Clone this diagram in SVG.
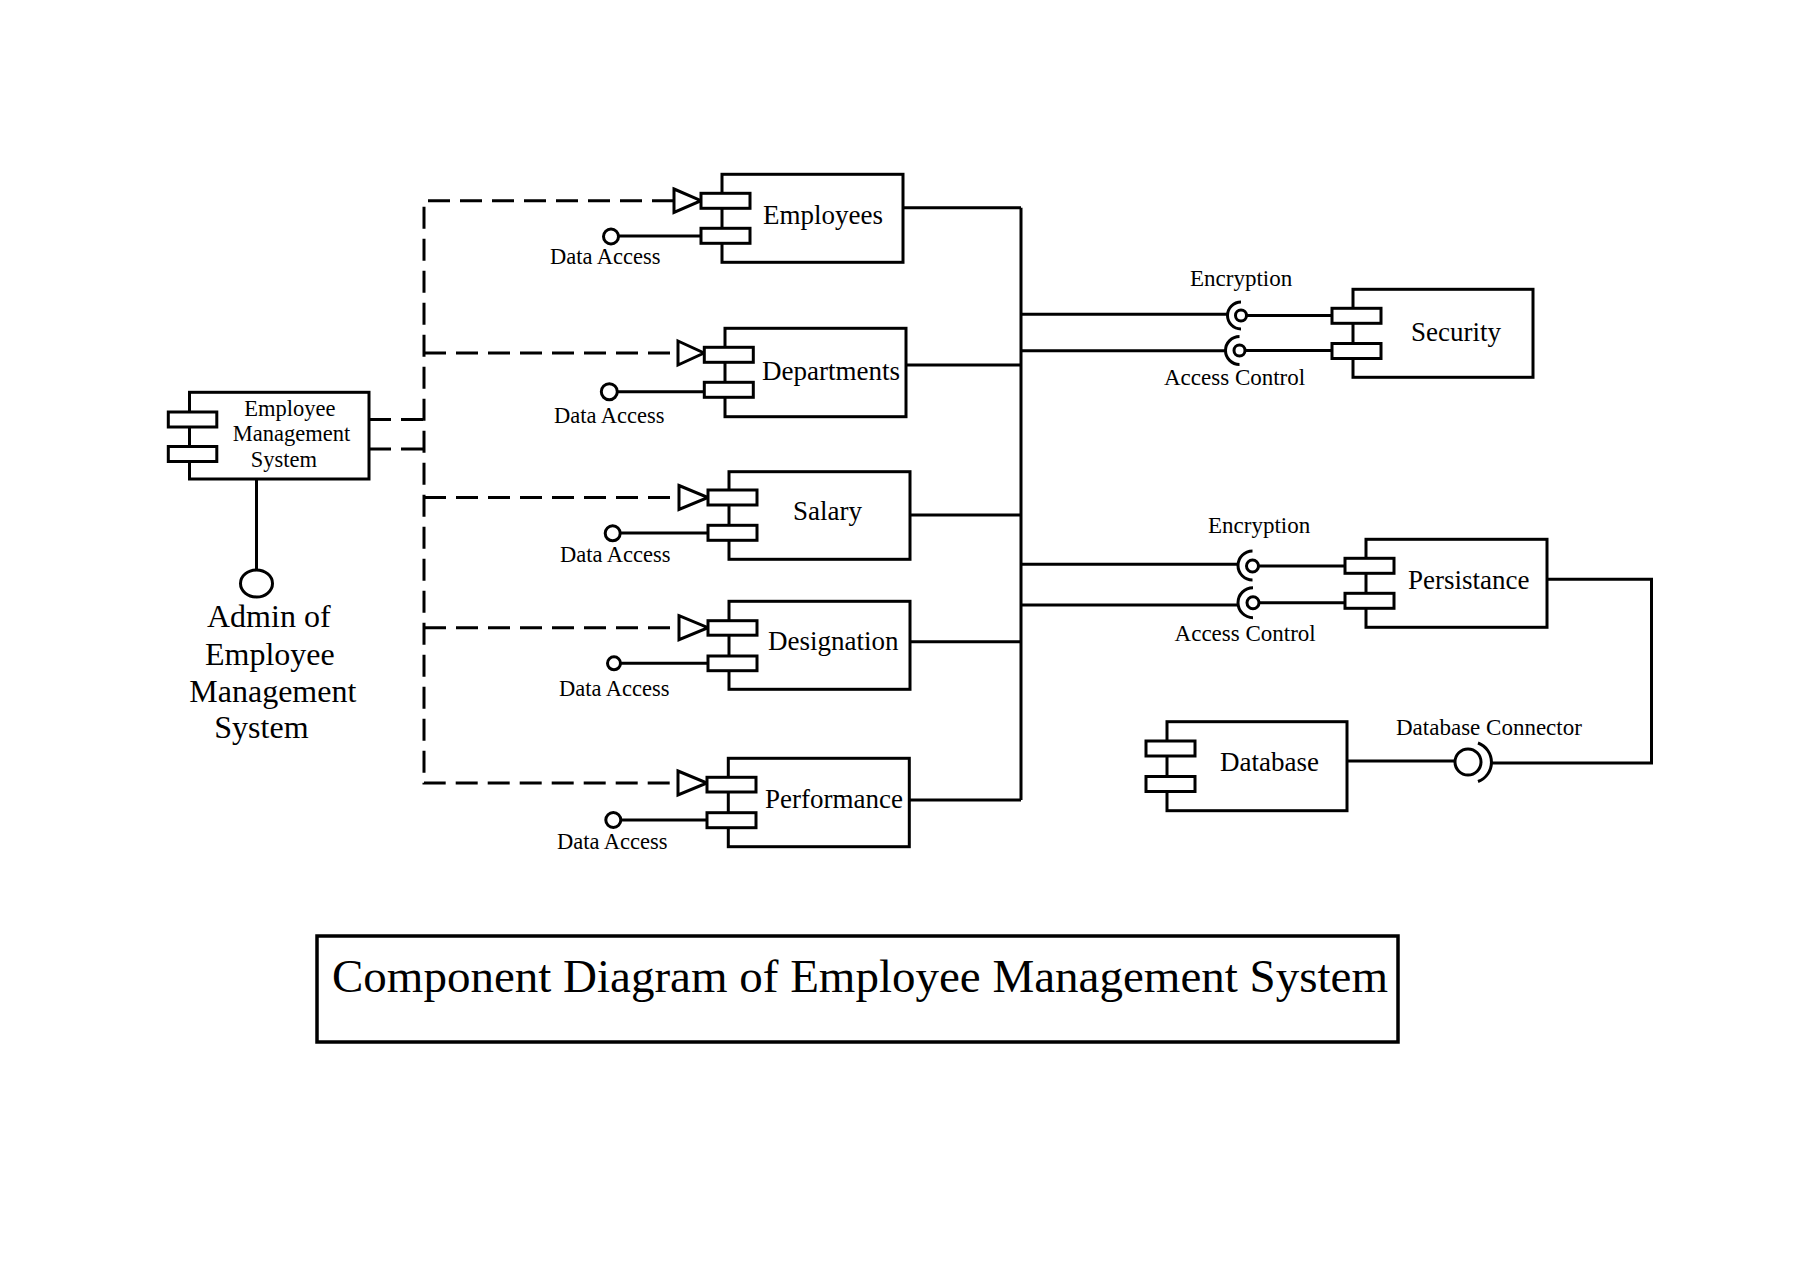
<svg xmlns="http://www.w3.org/2000/svg" width="1820" height="1276" viewBox="0 0 1820 1276">
<style>
.box{fill:#fff;stroke:#000;stroke-width:3}
.port{fill:#fff;stroke:#000;stroke-width:3}
.ln{fill:none;stroke:#000;stroke-width:3}
.dash{fill:none;stroke:#000;stroke-width:3;stroke-dasharray:22 10}
.ball{fill:#fff;stroke:#000;stroke-width:3}
.arr{fill:#fff;stroke:#000;stroke-width:3}
.t{font-family:"Liberation Serif","Times New Roman",serif;fill:#000}
.name{font-size:27px}
.lbl{font-size:22.5px}
.lbl2{font-size:23px}
</style>
<rect width="1820" height="1276" fill="#fff"/>

<g id="connectors">
  <!-- dependency (dashed) lines -->
  <path class="dash" d="M369,419.5 H424 M369,449 H424"/>
  <path class="dash" d="M674,200.7 H424 V783 H678"/>
  <path class="dash" d="M424,353 H678"/>
  <path class="dash" d="M424,497.5 H679"/>
  <path class="dash" d="M424,627.7 H679"/>
  <polygon class="arr" points="674,189 701,200.7 674,212.4"/>
  <polygon class="arr" points="678,341 704,353 678,365"/>
  <polygon class="arr" points="679,485.5 708,497.5 679,509.5"/>
  <polygon class="arr" points="679,615.7 708,627.7 679,639.7"/>
  <polygon class="arr" points="678,771 707,783 678,795"/>
  <!-- Data Access interfaces -->
  <path class="ln" d="M619,236 H701 M617,391.7 H704 M620,533 H708 M620.5,663.3 H708 M621,820 H707"/>
  <circle class="ball" cx="611" cy="236.5" r="7.5"/>
  <circle class="ball" cx="609.3" cy="391.7" r="8"/>
  <circle class="ball" cx="612.7" cy="533.3" r="7.5"/>
  <circle class="ball" cx="614" cy="663.3" r="6.5"/>
  <circle class="ball" cx="613.3" cy="820" r="7.5"/>
  <!-- bus -->
  <path class="ln" d="M1021,207.7 V800"/>
  <path class="ln" d="M903,207.7 H1021 M906,365 H1021 M910,515 H1021 M910,641.7 H1021 M909,800 H1021"/>
  <!-- Security interfaces -->
  <path class="ln" d="M1021,314.3 H1227 M1021,350.7 H1225.5"/>
  <path class="ln" d="M1241,302 A13.5,13.5 0 0 0 1241,329"/>
  <path class="ln" d="M1239.5,336.5 A14,14 0 0 0 1239.5,364.5"/>
  <path class="ln" d="M1247,315.5 H1332 M1245.5,350.5 H1332"/>
  <circle class="ball" cx="1241" cy="315.5" r="5.5"/>
  <circle class="ball" cx="1239.5" cy="350.5" r="5.5"/>
  <!-- Persistance interfaces -->
  <path class="ln" d="M1021,564.3 H1238.5 M1021,605 H1237.5"/>
  <path class="ln" d="M1252.5,551 A14.5,14.5 0 0 0 1252.5,580"/>
  <path class="ln" d="M1253,587.7 A15,15 0 0 0 1253,617.7"/>
  <path class="ln" d="M1259,566 H1345 M1259.5,602.7 H1345"/>
  <circle class="ball" cx="1252.5" cy="566" r="6"/>
  <circle class="ball" cx="1253" cy="602.7" r="6"/>
  <!-- Database connector -->
  <path class="ln" d="M1347,761 H1455"/>
  <circle class="ball" cx="1468" cy="762" r="13"/>
  <path class="ln" d="M1478,743 A20.5,20.5 0 0 1 1478,781.5"/>
  <path class="ln" d="M1490.5,763 H1651.5 V579.3 H1547"/>
  <!-- admin interface -->
  <path class="ln" d="M256.5,480 V570"/>
  <ellipse class="ball" cx="256.5" cy="583.5" rx="16" ry="13.5"/>
</g>

<g id="ems">
  <rect class="box" x="189.5" y="392.3" width="179.5" height="86.7"/>
  <rect class="port" x="168.3" y="412" width="48.5" height="15"/>
  <rect class="port" x="168.3" y="446.5" width="48.5" height="15"/>
  <text class="t lbl" x="244.3" y="416">Employee</text>
  <text class="t lbl" x="232.7" y="441">Management</text>
  <text class="t lbl" x="250.7" y="466.7">System</text>
</g>

<g id="admin">
  <text class="t" style="font-size:32px" x="207" y="626.7">Admin of</text>
  <text class="t" style="font-size:32px" x="205" y="665">Employee</text>
  <text class="t" style="font-size:32px" x="189.3" y="702.3">Management</text>
  <text class="t" style="font-size:32px" x="214.3" y="738.3">System</text>
</g>

<g id="employees">
  <rect class="box" x="722" y="174.3" width="181" height="88"/>
  <rect class="port" x="701" y="193.3" width="49" height="15"/>
  <rect class="port" x="701" y="228.3" width="49" height="15"/>
  <text class="t name" x="763" y="224">Employees</text>
  <text class="t lbl" x="550" y="264">Data Access</text>
</g>

<g id="departments">
  <rect class="box" x="725" y="328.3" width="181" height="88.4"/>
  <rect class="port" x="704.3" y="347.3" width="49" height="15"/>
  <rect class="port" x="704.3" y="382.3" width="49" height="15"/>
  <text class="t name" x="762" y="380">Departments</text>
  <text class="t lbl" x="554" y="423">Data Access</text>
</g>

<g id="salary">
  <rect class="box" x="729" y="471.7" width="181" height="87.6"/>
  <rect class="port" x="708" y="490" width="49" height="15"/>
  <rect class="port" x="708" y="525.3" width="49" height="15"/>
  <text class="t name" x="793" y="520">Salary</text>
  <text class="t lbl" x="560" y="562.3">Data Access</text>
</g>

<g id="designation">
  <rect class="box" x="729" y="601.3" width="181" height="88"/>
  <rect class="port" x="708" y="620.7" width="49" height="14.5"/>
  <rect class="port" x="708" y="656" width="49" height="14.7"/>
  <text class="t name" x="768" y="650">Designation</text>
  <text class="t lbl" x="559" y="695.7">Data Access</text>
</g>

<g id="performance">
  <rect class="box" x="728.3" y="758.3" width="181" height="88.4"/>
  <rect class="port" x="707" y="777.3" width="49" height="14.7"/>
  <rect class="port" x="707" y="812.7" width="49" height="15"/>
  <text class="t name" x="765" y="808">Performance</text>
  <text class="t lbl" x="557" y="849.3">Data Access</text>
</g>

<g id="security">
  <rect class="box" x="1353" y="289.3" width="180" height="88"/>
  <rect class="port" x="1332" y="308.3" width="49" height="15"/>
  <rect class="port" x="1332" y="343.5" width="49" height="15"/>
  <text class="t name" x="1411" y="340.7">Security</text>
  <text class="t lbl2" x="1190" y="286">Encryption</text>
  <text class="t lbl2" x="1164" y="385">Access Control</text>
</g>

<g id="persistance">
  <rect class="box" x="1366" y="539.3" width="181" height="88"/>
  <rect class="port" x="1345" y="558.3" width="49" height="15"/>
  <rect class="port" x="1345" y="593.3" width="49" height="15"/>
  <text class="t name" x="1408" y="589.3">Persistance</text>
  <text class="t lbl2" x="1208" y="532.7">Encryption</text>
  <text class="t lbl2" x="1174.6" y="640.7">Access Control</text>
</g>

<g id="database">
  <rect class="box" x="1167" y="721.7" width="180" height="89"/>
  <rect class="port" x="1146" y="741" width="49" height="15"/>
  <rect class="port" x="1146" y="776.5" width="49" height="15"/>
  <text class="t name" x="1220" y="770.7">Database</text>
  <text class="t lbl2" x="1396" y="735">Database Connector</text>
</g>

<g id="title">
  <rect class="box" x="317" y="936" width="1081" height="106" style="stroke-width:3.5"/>
  <text class="t" style="font-size:47px" x="332" y="992">Component Diagram of Employee Management System</text>
</g>
</svg>
